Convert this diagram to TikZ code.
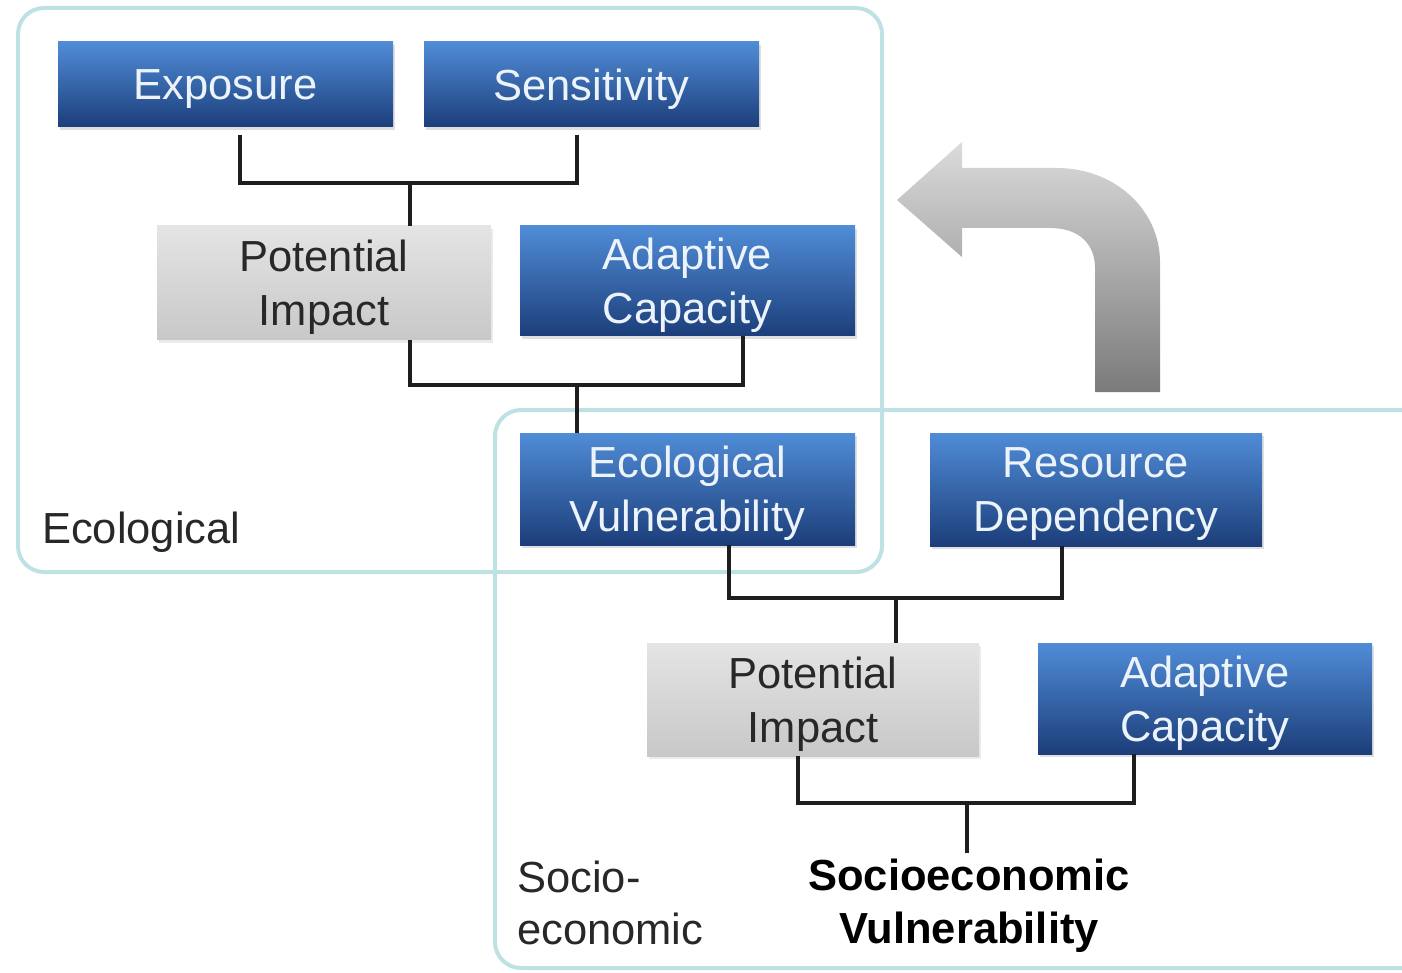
\documentclass[tikz,border=0pt]{standalone}
\usepackage{fontspec}
\setmainfont{Liberation Sans}
\usetikzlibrary{shadows}
\definecolor{frameC}{RGB}{190,225,228}
\definecolor{blueTop}{RGB}{80,140,215}
\definecolor{blueBot}{RGB}{28,62,122}
\definecolor{grayTop}{RGB}{228,228,228}
\definecolor{grayBot}{RGB}{200,200,200}
\definecolor{lineC}{RGB}{30,30,30}
\definecolor{txtW}{RGB}{236,243,250}
\definecolor{txtD}{RGB}{40,40,40}
\begin{document}
\begin{tikzpicture}[x=1pt,y=-1pt,
  every node/.style={font=\fontsize{43.5}{54}\selectfont, inner sep=0pt},
  bluebox/.style={draw=none, top color=blueTop, bottom color=blueBot, text=txtW, align=center, text depth=0pt,
    drop shadow={shadow xshift=2pt, shadow yshift=-3pt, fill=black!25, opacity=.5}},
  graybox/.style={draw=none, top color=grayTop, bottom color=grayBot, text=txtD, align=center, text depth=0pt,
    drop shadow={shadow xshift=2pt, shadow yshift=-3pt, fill=black!20, opacity=.4}},
  frame/.style={draw=frameC, line width=4pt, rounded corners=26pt},
  conn/.style={draw=lineC, line width=4pt},
  lbl/.style={text=txtD, align=left}
]
\useasboundingbox (0,0) rectangle (1402,973);
\begin{scope}
\clip (0,0) rectangle (1402,973);
% frames
\draw[frame] (18,8) rectangle (882,572);
\draw[frame] (495,410) rectangle (1440,968);

% arrow
\shade[top color=black!14, bottom color=black!52, shading angle=0]
  (897,200) -- (962,142) -- (962,168) -- (1057,168)
  .. controls (1115,168) and (1160,210) .. (1160,262)
  -- (1160,392) -- (1095,392) -- (1095,268)
  .. controls (1095,245) and (1080,228) .. (1050,228)
  -- (962,228) -- (962,257) -- cycle;

% nodes
\node[bluebox, minimum width=335pt, minimum height=85pt] (exp) at (225.5,84.5) {Exposure};
\node[bluebox, minimum width=335pt, minimum height=85pt] (sen) at (591.5,84.5) {Sensitivity};
\node[graybox, minimum width=334pt, minimum height=114pt] (pi1) at (324,283) {Potential\\Impact};
\node[bluebox, minimum width=335pt, minimum height=110pt] (ac1) at (687.5,281) {Adaptive\\Capacity};
\node[bluebox, minimum width=335pt, minimum height=112pt] (ev) at (687.5,489) {Ecological\\Vulnerability};
\node[bluebox, minimum width=332pt, minimum height=113pt] (rd) at (1096,489.5) {Resource\\Dependency};
\node[graybox, minimum width=332pt, minimum height=113pt] (pi2) at (813,699.5) {Potential\\Impact};
\node[bluebox, minimum width=334pt, minimum height=111pt] (ac2) at (1205,698.5) {Adaptive\\Capacity};
\node[text=black, align=center, font=\fontsize{43.5}{53}\selectfont\bfseries] (sv) at (969,906) {Socioeconomic\\Vulnerability};

\node[lbl, anchor=base west] (eco) at (42,543) {Ecological};
\node[lbl, anchor=west, font=\fontsize{43.5}{52}\selectfont] (soc) at (517,903) {Socio-\\economic};

% connectors
\coordinate (j1) at (410,183);
\coordinate (j2) at (577,385);
\coordinate (j3) at (896,598);
\coordinate (j4) at (967,803);
\coordinate (svtop) at (967,853);
\draw[conn] ([xshift=14.5pt,yshift=-8pt]exp.south) |- (j1) -| ([xshift=-14.5pt,yshift=-8pt]sen.south);
\draw[conn] (j1) -- ([xshift=86pt]pi1.north);
\draw[conn] ([xshift=86pt]pi1.south) |- (j2) -| ([xshift=55.5pt]ac1.south);
\draw[conn] (j2) -- ([xshift=-110.5pt]ev.north);
\draw[conn] ([xshift=41.5pt]ev.south) |- (j3) -| ([xshift=-34pt]rd.south);
\draw[conn] (j3) -- ([xshift=83pt]pi2.north);
\draw[conn] ([xshift=-15pt]pi2.south) |- (j4) -| ([xshift=-71pt]ac2.south);
\draw[conn] (j4) -- (svtop);
\end{scope}
\end{tikzpicture}
\end{document}
